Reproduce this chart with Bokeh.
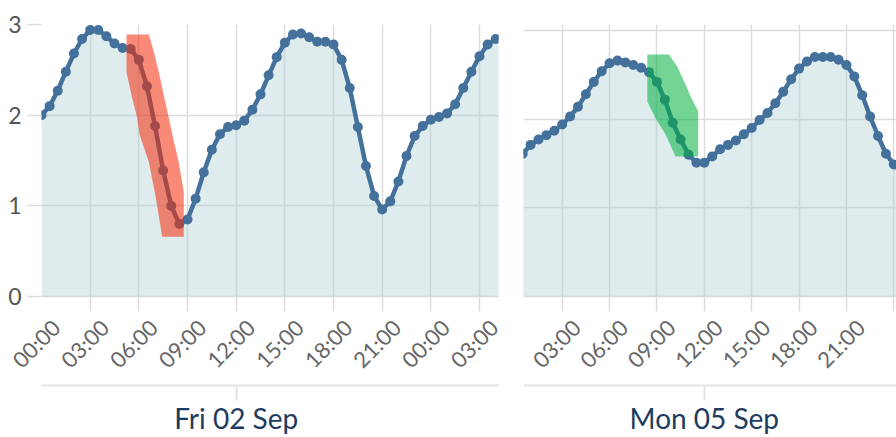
import math
from bokeh.plotting import figure
from bokeh.models import LinearAxis, FixedTicker, Range1d
from bokeh.layouts import row
from bokeh.embed import file_html
from bokeh.resources import INLINE

# ---------------- data ----------------
# Fri 02 Sep: tide height (m), half-hourly from 00:00
fri_step = 0.5
fri_levels = [2.00, 2.10, 2.27, 2.48, 2.68, 2.84, 2.94, 2.94, 2.87, 2.79,
              2.74, 2.73, 2.61, 2.32, 1.88, 1.39, 1.00, 0.80, 0.85, 1.08,
              1.37, 1.62, 1.79, 1.87, 1.89, 1.94, 2.06, 2.23, 2.44, 2.64,
              2.80, 2.89, 2.90, 2.86, 2.81, 2.81, 2.78, 2.61, 2.30, 1.87,
              1.44, 1.11, 0.96, 1.05, 1.27, 1.55, 1.77, 1.88, 1.95, 1.98,
              2.02, 2.12, 2.30, 2.48, 2.65, 2.78, 2.84, 2.88]
fri_hours = [i * fri_step for i in range(len(fri_levels))]

# Mon 05 Sep: tide height (m), half-hourly from 00:30
mon_start = 0.5
mon_step = 0.5
mon_levels = [1.61, 1.71, 1.77, 1.82, 1.87, 1.94, 2.03, 2.14, 2.28, 2.42,
              2.54, 2.63, 2.66, 2.64, 2.61, 2.58, 2.53, 2.42, 2.22, 1.96,
              1.77, 1.60, 1.51, 1.51, 1.58, 1.66, 1.71, 1.76, 1.83, 1.90,
              1.99, 2.07, 2.18, 2.31, 2.45, 2.57, 2.65, 2.70, 2.70, 2.70,
              2.67, 2.61, 2.48, 2.27, 2.03, 1.81, 1.61, 1.49, 1.40]
mon_hours = [mon_start + i * mon_step for i in range(len(mon_levels))]

# highlighted windows (outline in hours / metres)
red_band_hours = [5.24, 6.62, 6.92, 7.23, 7.54, 7.85, 8.06, 8.46, 8.77, 8.77,
                  7.44, 7.03, 6.62, 6.04, 5.90, 5.59, 5.28, 5.24]
red_band_levels = [2.89, 2.89, 2.70, 2.48, 2.22, 1.97, 1.79, 1.48, 1.15, 0.66,
                   0.66, 1.11, 1.48, 1.79, 1.97, 2.19, 2.44, 2.47]
green_band_hours = [8.39, 9.76, 10.29, 10.81, 11.23, 11.61, 11.61, 10.18, 9.54, 8.91, 8.39]
green_band_levels = [2.73, 2.73, 2.59, 2.39, 2.22, 2.09, 1.58, 1.58, 1.83, 2.01, 2.20]

fri_ticks = [0, 3, 6, 9, 12, 15, 18, 21, 24, 27]
fri_tick_labels = ["00:00", "03:00", "06:00", "09:00", "12:00", "15:00",
                   "18:00", "21:00", "00:00", "03:00"]
mon_ticks = [3, 6, 9, 12, 15, 18, 21, 24]
mon_tick_labels = ["03:00", "06:00", "09:00", "12:00", "15:00",
                   "18:00", "21:00", "00:00"]
y_ticks = [0, 1, 2, 3]

LINE = "#44719c"
FILL = "#accfd4"
GRID = "#dcdcdc"
FONT = "Lato"
LABEL_SHIFT = 0.9   # hours: rotated labels sit slightly right of their tick
TICK_DEPTH = 15     # px: vertical grid lines run below the zero line as tick marks


def panel(hours, levels, x_range, y_top, ticks, tick_labels, day_label, band_h, band_l,
          band_color, show_y, width, b_left, b_right):
    frame_h = 437 - 24 - 124
    zero_px = frame_h - TICK_DEPTH
    y_start = -y_top * TICK_DEPTH / zero_px
    p = figure(width=width, height=437, x_range=Range1d(*x_range),
               y_range=Range1d(y_start, y_top),
               output_backend="svg", toolbar_location=None,
               min_border_left=b_left, min_border_right=b_right, min_border_top=24,
               min_border_bottom=124, y_axis_location="left" if show_y else None)
    p.outline_line_color = None
    p.background_fill_color = "white"
    p.border_fill_color = "white"

    p.xgrid.ticker = FixedTicker(ticks=ticks)
    p.ygrid.ticker = FixedTicker(ticks=y_ticks)
    for g in (p.xgrid[0], p.ygrid[0]):
        g.grid_line_color = GRID
        g.grid_line_width = 1.5

    # rotated hour labels (default x axis)
    lab_ticks = [t + LABEL_SHIFT for t in ticks]
    ax = p.xaxis[0]
    ax.ticker = FixedTicker(ticks=lab_ticks)
    ax.major_label_overrides = dict(zip(lab_ticks, tick_labels))
    ax.major_label_orientation = math.pi / 4
    ax.axis_line_color = None
    ax.major_tick_line_color = None
    ax.major_tick_out = 0
    ax.major_tick_in = 0
    ax.minor_tick_line_color = None
    ax.major_label_text_font = FONT
    ax.major_label_text_font_size = "22px"
    ax.major_label_text_color = "#666666"
    ax.major_label_standoff = 12

    noon = 12
    ax2 = LinearAxis(ticker=FixedTicker(ticks=[noon]),
                     major_label_overrides={noon: day_label},
                     axis_line_color="#e4e4e4", axis_line_width=2,
                     major_tick_out=15, major_tick_in=0,
                     major_tick_line_color="#e4e4e4", major_tick_line_width=2,
                     minor_tick_line_color=None,
                     major_label_text_font=FONT, major_label_text_font_size="28px",
                     major_label_text_color="#1e3c5f", major_label_standoff=0)
    p.add_layout(ax2, "below")

    if show_y:
        ay = p.yaxis[0]
        ay.ticker = FixedTicker(ticks=y_ticks)
        ay.axis_line_color = None
        ay.major_tick_out = 14
        ay.major_tick_in = 0
        ay.major_tick_line_color = GRID
        ay.major_tick_line_width = 1.5
        ay.minor_tick_line_color = None
        ay.major_label_text_font = FONT
        ay.major_label_text_font_size = "23px"
        ay.major_label_text_color = "#555555"
        ay.major_label_standoff = 6

    p.varea(x=hours, y1=0, y2=levels, fill_color=FILL, fill_alpha=0.4)
    p.line(hours, levels, line_color=LINE, line_width=4.5)
    p.scatter(hours, levels, size=10, fill_color=LINE, line_color=None)
    p.patch(band_h, band_l, fill_color=band_color, fill_alpha=0.55, line_color=None)
    return p


left = panel(fri_hours, fri_levels, (0, 28.17), 3, fri_ticks, fri_tick_labels, "Fri 02 Sep",
             red_band_hours, red_band_levels, "#f52a0a", True, 508, 41, 10)
right = panel(mon_hours, mon_levels, (0.55, 24.17), 3.067, mon_ticks, mon_tick_labels, "Mon 05 Sep",
              green_band_hours, green_band_levels, "#00b040", False, 388, 15, 0)

layout = row(left, right)
open("out.html", "w").write(file_html(layout, INLINE))
